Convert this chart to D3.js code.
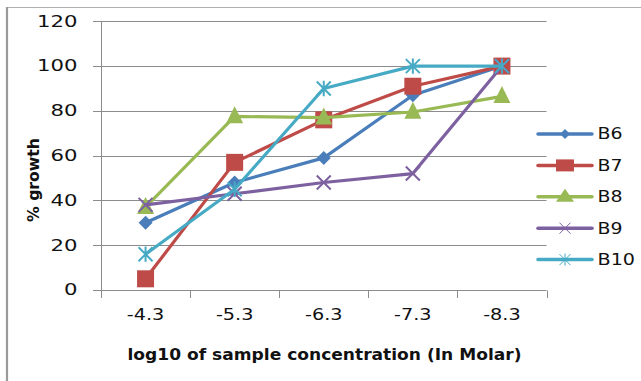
<!DOCTYPE html>
<html><head><meta charset="utf-8">
<script src="https://cdn.jsdelivr.net/npm/d3@7"></script>
<style>html,body{margin:0;padding:0;background:#fff;}svg{display:block;}</style>
</head><body>
<svg id="c" width="641" height="381"></svg>
<script>
const categories = ["-4.3", "-5.3", "-6.3", "-7.3", "-8.3"];
const yTicks = [0, 20, 40, 60, 80, 100, 120];
const seriesNames = ["B6", "B7", "B8", "B9", "B10"];
const B6 = [30, 48, 59, 87, 100];
const B7 = [5, 57, 76, 91, 100];
const B8 = [37, 77.5, 77, 79.5, 86.5];
const B9 = [38, 43, 48, 52, 100];
const B10 = [16, 45, 90, 100, 100];
const colors = ["#4A7EBB", "#BE4B48", "#98B954", "#7D60A0", "#46AAC5"];
const markers = ["diamond", "square", "triangle", "x", "star"];
const seriesValues = [B6, B7, B8, B9, B10];

const svg = d3.select("#c");
const font = "'DejaVu Sans', Verdana, sans-serif";

// frame
svg.append("line").attr("x1", 6).attr("x2", 641).attr("y1", 7.5).attr("y2", 7.5).attr("stroke", "#b0b0b0").attr("stroke-width", 1.2);
svg.append("line").attr("x1", 7).attr("x2", 7).attr("y1", 7).attr("y2", 381).attr("stroke", "#9a9a9a").attr("stroke-width", 2.2);

const x = d3.scaleBand().domain(categories).range([101, 546.5]).padding(0);
const y = d3.scaleLinear().domain([0, 120]).range([290, 21.3]);

// gridlines
svg.append("g").selectAll("line").data(yTicks.filter(d => d > 0)).join("line")
  .attr("x1", 101).attr("x2", 546.5)
  .attr("y1", d => Math.round(y(d)) + 0.5).attr("y2", d => Math.round(y(d)) + 0.5)
  .attr("stroke", "#8c8c8c").attr("stroke-width", 1);

// y axis
const yAxis = svg.append("g");
yAxis.append("line").attr("x1", 101.5).attr("x2", 101.5).attr("y1", y(120)).attr("y2", y(0)).attr("stroke", "#8c8c8c");
yAxis.selectAll("line.t").data(yTicks).join("line").attr("class", "t")
  .attr("x1", 93).attr("x2", 101.5)
  .attr("y1", d => Math.round(y(d)) + 0.5).attr("y2", d => Math.round(y(d)) + 0.5)
  .attr("stroke", "#8c8c8c");
yAxis.selectAll("text").data(yTicks).join("text")
  .attr("x", 77.5).attr("y", d => y(d)).attr("dy", "0.36em")
  .attr("text-anchor", "end")
  .attr("font-family", font).attr("font-size", 15).attr("fill", "#111")
  .attr("textLength", d => String(d).length * 13.5).attr("lengthAdjust", "spacingAndGlyphs")
  .text(d => d);

// x axis
const xAxis = svg.append("g");
xAxis.append("line").attr("x1", 101).attr("x2", 546.5).attr("y1", 290.5).attr("y2", 290.5).attr("stroke", "#8c8c8c");
const bounds = categories.map(c => x(c)).concat([x(categories[categories.length - 1]) + x.bandwidth()]);
xAxis.selectAll("line.t").data(bounds).join("line").attr("class", "t")
  .attr("x1", d => Math.round(d) + 0.5).attr("x2", d => Math.round(d) + 0.5)
  .attr("y1", 290.5).attr("y2", 298)
  .attr("stroke", "#8c8c8c");
xAxis.selectAll("text").data(categories).join("text")
  .attr("x", d => x(d) + x.bandwidth() / 2).attr("y", 315).attr("dy", "0.36em")
  .attr("text-anchor", "middle")
  .attr("font-family", font).attr("font-size", 15).attr("fill", "#111")
  .attr("textLength", 37.5).attr("lengthAdjust", "spacingAndGlyphs")
  .text(d => d);

// axis titles
svg.append("text").attr("x", 324.5).attr("y", 355).attr("dy", "0.36em")
  .attr("text-anchor", "middle").attr("font-family", font).attr("font-weight", "bold")
  .attr("font-size", 15).attr("fill", "#111")
  .attr("textLength", 394).attr("lengthAdjust", "spacingAndGlyphs")
  .text("log10 of sample concentration (In Molar)");
svg.append("text").attr("transform", "translate(33,180) rotate(-90)")
  .attr("dy", "0.36em")
  .attr("text-anchor", "middle").attr("font-family", font).attr("font-weight", "bold")
  .attr("font-size", 16).attr("fill", "#111")
  .attr("textLength", 84).attr("lengthAdjust", "spacingAndGlyphs")
  .text("% growth");

function drawMarker(g, type, color, size, legend) {
  const s = size;
  if (type === "diamond") {
    g.append("path").attr("d", `M0,${-s/2}L${s/2},0L0,${s/2}L${-s/2},0Z`).attr("fill", color);
  } else if (type === "square") {
    if (legend) g.append("rect").attr("x", -9).attr("y", -6).attr("width", 18).attr("height", 12).attr("fill", color);
    else g.append("rect").attr("x", -s/2).attr("y", -s/2).attr("width", s).attr("height", s).attr("fill", color);
  } else if (type === "triangle") {
    if (legend) g.append("path").attr("d", `M0,-8L9,5L-9,5Z`).attr("fill", color);
    else g.append("path").attr("d", `M0,${-s*0.6}L${s/2},${s*0.4}L${-s/2},${s*0.4}Z`).attr("fill", color);
  } else if (type === "x") {
    const h = s / 2, w = legend ? 1 : 2;
    g.append("path").attr("d", `M${-h},${-h}L${h},${h}M${-h},${h}L${h},${-h}`).attr("stroke", color).attr("stroke-width", w).attr("fill", "none");
  } else if (type === "star") {
    const h = s / 2, w = legend ? 1 : 2;
    g.append("path").attr("d", `M${-h},${-h}L${h},${h}M${-h},${h}L${h},${-h}M0,${-h*1.1}L0,${h*1.1}`).attr("stroke", color).attr("stroke-width", w).attr("fill", "none");
  }
}

const sizes = {diamond: 14, square: 17, triangle: 17, x: 14, star: 14};
const line = d3.line().x((d, i) => x(categories[i]) + x.bandwidth() / 2).y(d => y(d));

seriesValues.forEach((vals, si) => {
  const g = svg.append("g");
  g.append("path").attr("d", line(vals)).attr("fill", "none")
    .attr("stroke", colors[si]).attr("stroke-width", 3.2).attr("stroke-linejoin", "round");
  vals.forEach((v, i) => {
    const m = g.append("g").attr("transform", `translate(${x(categories[i]) + x.bandwidth() / 2},${y(v)})`);
    drawMarker(m, markers[si], colors[si], sizes[markers[si]], false);
  });
});

// legend
const legend = svg.append("g");
seriesNames.forEach((name, i) => {
  const ly = 134 + i * 31.4;
  legend.append("line").attr("x1", 538).attr("x2", 592).attr("y1", ly).attr("y2", ly)
    .attr("stroke", colors[i]).attr("stroke-width", 3.5).attr("stroke-linecap", "round");
  const m = legend.append("g").attr("transform", `translate(565,${ly})`);
  drawMarker(m, markers[i], colors[i], markers[i] === "diamond" ? 10 : 11, true);
  legend.append("text").attr("x", 597.5).attr("y", ly).attr("dy", "0.36em")
    .attr("font-family", font).attr("font-size", 15).attr("fill", "#111")
    .attr("textLength", name.length * 12.5).attr("lengthAdjust", "spacingAndGlyphs")
    .text(name);
});
</script>
</body></html>
